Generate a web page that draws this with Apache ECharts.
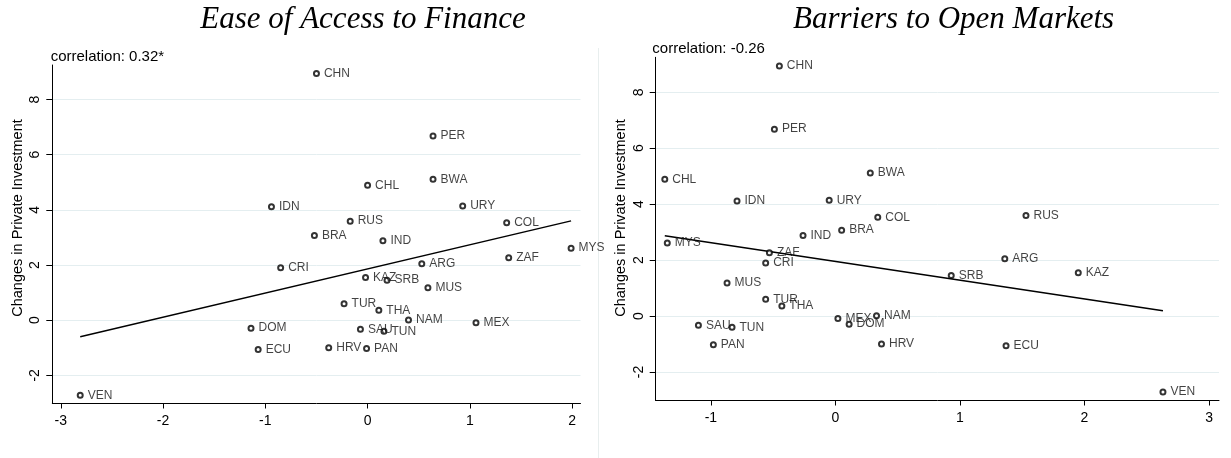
<!DOCTYPE html>
<html>
<head>
<meta charset="utf-8">
<script src="https://cdn.jsdelivr.net/npm/echarts@6/dist/echarts.min.js"></script>
<style>
html,body{margin:0;padding:0;background:#fff;}
#chart{width:1231px;height:458px;}
</style>
</head>
<body>
<div id="chart"></div>
<script>
// ---- data ----
const countries = ['CHN','PER','BWA','CHL','IDN','URY','RUS','COL','BRA','IND','MYS','ZAF','ARG','CRI','KAZ','SRB','MUS','TUR','THA','NAM','MEX','DOM','SAU','TUN','ECU','HRV','PAN','VEN'];
const privateInvestmentChange = [8.94,6.68,5.11,4.89,4.11,4.14,3.59,3.53,3.07,2.88,2.61,2.26,2.05,1.90,1.55,1.45,1.18,0.60,0.36,0.01,-0.09,-0.29,-0.33,-0.40,-1.06,-1.00,-1.03,-2.72];
const easeOfAccessToFinance = [-0.50,0.64,0.64,0.00,-0.94,0.93,-0.17,1.36,-0.52,0.15,1.99,1.38,0.53,-0.85,-0.02,0.19,0.59,-0.23,0.11,0.40,1.06,-1.14,-0.07,0.16,-1.07,-0.38,-0.01,-2.81];
const barriersToOpenMarkets = [-0.45,-0.49,0.28,-1.37,-0.79,-0.05,1.53,0.34,0.05,-0.26,-1.35,-0.53,1.36,-0.56,1.95,0.93,-0.87,-0.56,-0.43,0.33,0.02,0.11,-1.10,-0.83,1.37,0.37,-0.98,2.63];
const fitFinanceX = [-2.81, 1.99];
const fitFinanceY = [-0.60, 3.60];
const fitBarriersX = [-1.37, 2.63];
const fitBarriersY = [2.87, 0.19];
const xTicksFinance = [-3,-2,-1,0,1,2];
const xTicksBarriers = [-1,0,1,2,3];
const yTicks = [-2,0,2,4,6,8];
const panelTitles = ['Ease of Access to Finance','Barriers to Open Markets'];
const corrTexts = ['correlation: 0.32*','correlation: -0.26'];
const yTitle = 'Changes in Private Investment';

const SANS = 'Liberation Sans';
const SERIF = 'Liberation Serif';

function pts(xs){ return countries.map((c,i)=>({name:c, value:[xs[i], privateInvestmentChange[i]]})); }
function line(xs, ys){ return xs.map((x,i)=>[x, ys[i]]); }

function xAxis(idx, min, max, ticks){
  return {
    gridIndex: idx, type:'value', min:min, max:max,
    axisLine:{show:true, onZero:false, lineStyle:{color:'#000', width:1}},
    axisTick:{show:true, length:5, customValues:ticks, lineStyle:{color:'#000'}},
    axisLabel:{show:true, customValues:ticks, margin:11, fontSize:14, color:'#000', fontFamily:SANS},
    splitLine:{show:false}
  };
}
function yAxis(idx){
  return {
    gridIndex: idx, type:'value', min:-3.02, max:9.25,
    axisLine:{show:true, onZero:false, lineStyle:{color:'#000', width:1}},
    axisTick:{show:true, length:6, customValues:yTicks, lineStyle:{color:'#000'}},
    axisLabel:{show:true, customValues:yTicks, rotate:90, margin:10, fontSize:14, color:'#000', fontFamily:SANS},
    splitLine:{show:true, lineStyle:{color:'#e4eef0', width:1}}
  };
}
const scatterStyle = {
  type:'scatter', symbol:'emptyCircle', symbolSize:5,
  itemStyle:{color:'#000', borderColor:'#000', borderWidth:1.2},
  label:{show:true, position:'right', distance:4, formatter:'{b}', fontSize:12, color:'#111', fontFamily:SANS},
  emphasis:{disabled:true}, z:3
};

const chart = echarts.init(document.getElementById('chart'), null, {renderer:'canvas'});
chart.setOption({
  animation:false,
  backgroundColor:'#fff',
  grid:[
    {left:52.3, right:650.5, top:65, bottom:54.5},
    {left:655.7, right:12, top:57.3, bottom:57.5}
  ],
  xAxis:[ xAxis(0, -3.083, 2.082, xTicksFinance), xAxis(1, -1.443, 3.08, xTicksBarriers) ],
  yAxis:[ yAxis(0), yAxis(1) ],
  series:[
    Object.assign({}, scatterStyle, {xAxisIndex:0, yAxisIndex:0, data:pts(easeOfAccessToFinance)}),
    {type:'line', xAxisIndex:0, yAxisIndex:0, data:line(fitFinanceX, fitFinanceY), symbol:'none', lineStyle:{color:'#000', width:1.5}, z:2, silent:true},
    Object.assign({}, scatterStyle, {xAxisIndex:1, yAxisIndex:1, data:pts(barriersToOpenMarkets)}),
    {type:'line', xAxisIndex:1, yAxisIndex:1, data:line(fitBarriersX, fitBarriersY), symbol:'none', lineStyle:{color:'#000', width:1.5}, z:2, silent:true}
  ],
  graphic:[
    {type:'line', shape:{x1:598.5, y1:48, x2:598.5, y2:458}, style:{stroke:'#e8eeee', lineWidth:1}, silent:true},
    {type:'text', x:363, y:19.5, style:{text:panelTitles[0], font:'italic 31px "'+SERIF+'"', fill:'#000', align:'center', verticalAlign:'middle'}},
    {type:'text', x:953.6, y:19.5, style:{text:panelTitles[1], font:'italic 31px "'+SERIF+'"', fill:'#000', align:'center', verticalAlign:'middle'}},
    {type:'text', x:50.7, y:56.8, style:{text:corrTexts[0], font:'15px "'+SANS+'"', fill:'#000', align:'left', verticalAlign:'middle'}},
    {type:'text', x:652.3, y:48.8, style:{text:corrTexts[1], font:'15px "'+SANS+'"', fill:'#000', align:'left', verticalAlign:'middle'}},
    {type:'text', x:18, y:218, rotation:Math.PI/2, style:{text:yTitle, font:'14.5px "'+SANS+'"', fill:'#000', align:'center', verticalAlign:'middle'}},
    {type:'text', x:621, y:218, rotation:Math.PI/2, style:{text:yTitle, font:'14.5px "'+SANS+'"', fill:'#000', align:'center', verticalAlign:'middle'}}
  ]
});
</script>
</body>
</html>
